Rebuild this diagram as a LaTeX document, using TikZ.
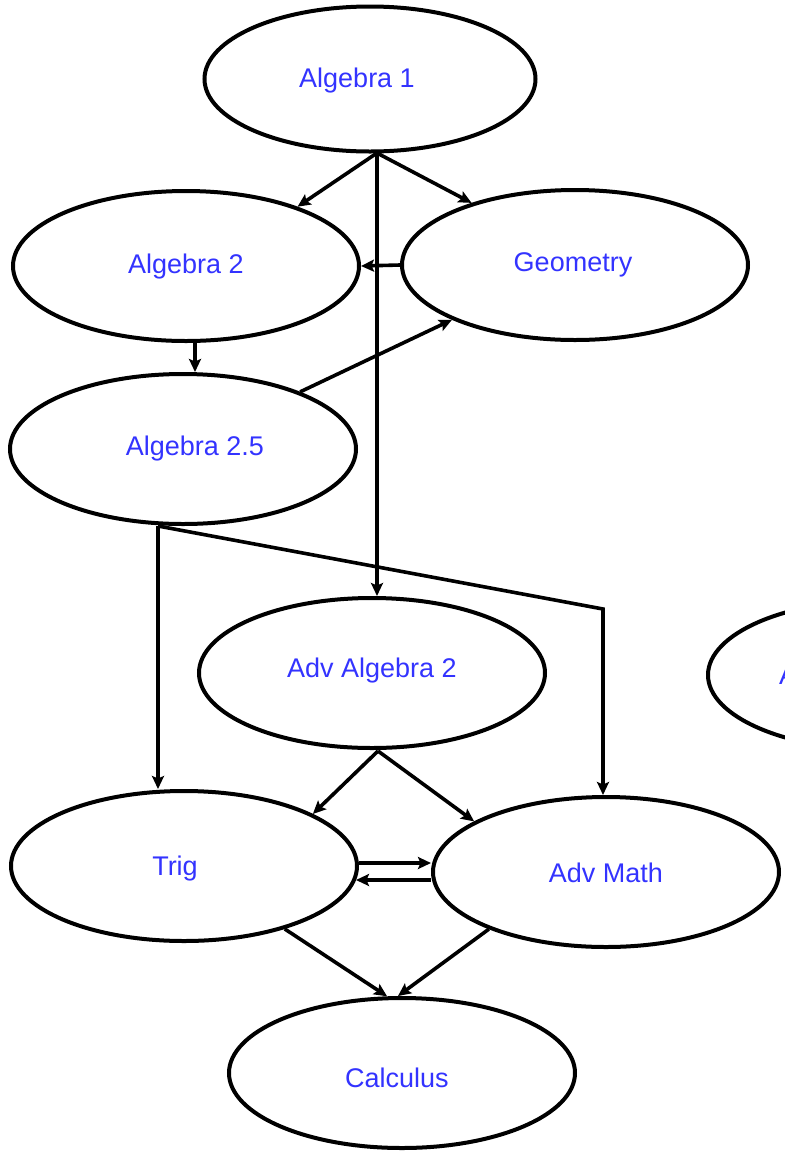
\documentclass[tikz,border=0pt]{standalone}
\usepackage{fontspec}
\setmainfont{Liberation Sans}
\usetikzlibrary{shapes.geometric,arrows.meta}
\definecolor{txtblue}{RGB}{51,51,255}
\tikzset{
  course/.style={draw=black, line width=4pt, ellipse, inner sep=0pt,
    minimum width=346pt, minimum height=150pt},
  lbl/.style={text=txtblue, font=\fontsize{27}{32}\selectfont, anchor=base, inner sep=0pt},
  arr/.style={line width=3.6pt, -{Stealth[length=13pt,width=12pt,inset=2.5pt]}},
  ln/.style={line width=3.6pt}
}
\begin{document}
\begin{tikzpicture}[x=1pt,y=-1pt]
\useasboundingbox (0,0) rectangle (785,1163);
\clip (0,0) rectangle (785,1163);
% ellipses
\node[course, minimum width=331pt, minimum height=145pt] (a1) at (370,79) {};
\node[course] (a2) at (186,266) {};
\node[course] (geo) at (575,265) {};
\node[course] (a25) at (183,449) {};
\node[course] (aa2) at (372,673) {};
\node[course] (part) at (881,675) {};
\node[course] (trig) at (184,866) {};
\node[course] (am) at (606,872) {};
\node[course] (calc) at (402,1073) {};
% labels
\node[lbl] (t1) at (357,87) {Algebra 1};
\node[lbl] (t2) at (186,273) {Algebra 2};
\node[lbl] (t3) at (573,271) {Geometry};
\node[lbl] (t4) at (195,455) {Algebra 2.5};
\node[lbl] (t5) at (372,677) {Adv Algebra 2};
\node[lbl, anchor=base west] (t6) at (779,684) {A};
\node[lbl] (t7) at (175,875) {Trig};
\node[lbl] (t8) at (606,882) {Adv Math};
\node[lbl] (t9) at (397,1087) {Calculus};
% junction coordinates
\coordinate (j1) at (377,153);
\coordinate (j2) at (158,526);
\coordinate (bend) at (603,609);
\coordinate (j3) at (378,751);
\coordinate (v) at (195,0);
% connectors
\draw[arr] (j1) -- (a2.28);
\draw[arr] (j1) -- (geo.149);
\draw[arr] (j1) -- (j1 |- aa2.north);
\draw[arr] (geo.west) -- (a2.east);
\draw[arr] (v |- a2.south) -- (v |- a25.north);
\draw[arr] (a25.26) -- (geo.204);
\draw[arr] (j2) -- (j2 |- trig.north);
\draw[arr] (j2) -- (bend) -- (bend |- am.north);
\draw[arr] (j3) -- (trig.22);
\draw[arr] (j3) -- (am.159);
\draw[arr] ([yshift=3pt]trig.east) -- ([yshift=9pt]am.west);
\draw[arr] ([yshift=-8pt]am.west) -- ([yshift=-14pt,xshift=-3pt]trig.east);
\draw[arr] (trig.-32) -- (calc.101);
\draw[arr] (am.206) -- (calc.93);
\end{tikzpicture}
\end{document}
